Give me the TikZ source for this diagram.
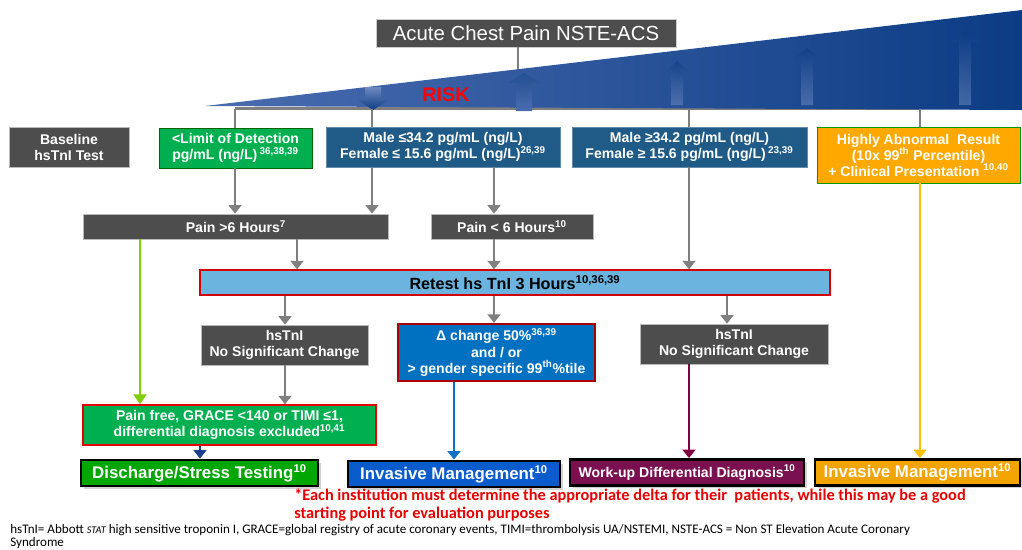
\documentclass[tikz,border=0pt]{standalone}
\usepackage{fontspec}
\setmainfont{Liberation Sans}
\newfontfamily\notefont{Carlito}
\usetikzlibrary{arrows.meta,shadows}

\definecolor{boxgray}{HTML}{4D4D4D}
\definecolor{linegray}{HTML}{7F7F7F}
\definecolor{lodgreen}{HTML}{00B050}
\definecolor{teal}{HTML}{1F5B86}
\definecolor{abnorange}{HTML}{FFA800}
\definecolor{retblue}{HTML}{6AB4DF}
\definecolor{delblue}{HTML}{0070C0}
\definecolor{alarmred}{HTML}{D00000}
\definecolor{invblue}{HTML}{0A5CCC}
\definecolor{workmaroon}{HTML}{7A1050}
\definecolor{invorange}{HTML}{F2A500}
\definecolor{riskleft}{HTML}{4A6CB0}
\definecolor{riskright}{HTML}{0C3C84}
\definecolor{arrowgreen}{HTML}{80D000}
\definecolor{arrowblue}{HTML}{1070C8}
\definecolor{arrowmaroon}{HTML}{800040}
\definecolor{arroworange}{HTML}{FFC000}
\definecolor{arrownavy}{HTML}{1F3F8F}

\newcommand{\bx}{\fontsize{10}{11.4}\selectfont\bfseries}
\newcommand{\bxbig}{\fontsize{12}{13}\selectfont\bfseries}

\tikzset{
  flowbox/.style={rectangle, inner sep=0pt, align=center, text=white, font=\bx},
  graybox/.style={flowbox, fill=boxgray, draw=gray!55, line width=0.5pt},
  tealbox/.style={flowbox, fill=teal, draw=teal!70!white, line width=0.5pt},
  endbox/.style={flowbox, draw=black, line width=2pt, font=\bxbig,
    drop shadow={shadow xshift=2pt, shadow yshift=-2pt, fill=gray!70}},
  tip/.style={-{Triangle[width=9pt,length=6pt]}},
  gline/.style={draw=linegray, line width=2pt},
  garrow/.style={gline, tip},
}

\begin{document}
\begin{tikzpicture}[x=0.025cm,y=-0.025cm]
  \useasboundingbox (0,0) rectangle (1022,549);

  % column positions of the connectors
  \coordinate (xa) at (140,0);
  \coordinate (xb) at (200,0);
  \coordinate (xc) at (235,0);
  \coordinate (xd) at (285,0);
  \coordinate (xe) at (297,0);
  \coordinate (xf) at (372,0);
  \coordinate (xg) at (454,0);
  \coordinate (xh) at (494,0);
  \coordinate (xi) at (689,0);
  \coordinate (xj) at (727,0);
  \coordinate (xk) at (920,0);
  \coordinate (xt) at (518,0);

  % Title and its line into the risk wedge
  \node[graybox, draw=gray!40, minimum width=7.5cm, minimum height=0.7cm,
        font=\fontsize{14.5}{16}\selectfont] (title) at (526,33) {Acute Chest Pain NSTE-ACS};
  \coordinate (tt) at (518,85);
  \draw[gline] (title.south -| xt) -- (tt);

  % Bus under the wedge
  \coordinate (bus1) at (235,108.5);
  \coordinate (bus2) at (920,108.5);
  \draw[gline] (bus1) -- (bus2);

  % Risk wedge
  \shade[left color=riskleft, right color=riskright] (205,106) -- (1022,10) -- (1022,110) -- cycle;
  \foreach \ax/\at/\hw in {677/61/11, 807/48/13, 965/32/15} {
    \shade[top color=riskright, bottom color=riskleft!80!white, opacity=0.55]
      (\ax-6,105) -- (\ax-6,\at+10) -- (\ax-\hw,\at+10) -- (\ax,\at)
      -- (\ax+\hw,\at+10) -- (\ax+6,\at+10) -- (\ax+6,105) -- cycle;
  }
  % arrows up and down at the wedge's left part
  \shade[top color=riskright!90!white, bottom color=riskleft]
    (516,111) -- (516,83) -- (508,83) -- (524,73) -- (540,83) -- (532,83) -- (532,111) -- cycle;
  \shade[top color=riskleft!80!white, bottom color=riskright]
    (365,87) -- (365,100) -- (358,100) -- (373,110) -- (388,100) -- (381,100) -- (381,87) -- cycle;
  \node[text=red, font=\fontsize{14}{16}\selectfont\bfseries] (risk) at (446,95) {RISK};

  % Baseline row
  \node[graybox, minimum width=3cm, minimum height=1cm] (base) at (69,147) {Baseline\\hsTnI Test};
  \node[flowbox, fill=lodgreen, draw=green!40!black, line width=0.5pt,
        minimum width=3.825cm, minimum height=1cm] (lod) at (235.5,148)
        {<Limit of Detection\\pg/mL (ng/L)\,\textsuperscript{36,38,39}};
  \node[tealbox, minimum width=5.85cm, minimum height=1cm] (lowm) at (443,147)
        {Male ≤34.2 pg/mL (ng/L)\\Female ≤ 15.6 pg/mL (ng/L)\textsuperscript{26,39}};
  \node[tealbox, minimum width=5.875cm, minimum height=1cm] (highm) at (689.5,147)
        {Male ≥34.2 pg/mL (ng/L)\\Female ≥ 15.6 pg/mL (ng/L)\,\textsuperscript{23,39}};
  \node[flowbox, fill=abnorange, draw=green!60!black, line width=0.6pt,
        minimum width=5.075cm, minimum height=1.4cm] (abn) at (918.5,155)
        {Highly Abnormal\ \ Result\\(10x 99\textsuperscript{th} Percentile)\\+ Clinical Presentation \textsuperscript{10,40}};

  % Pain duration row
  \node[graybox, minimum width=7.625cm, minimum height=0.625cm] (pain6) at (236,226.5)
        {Pain >6 Hours\textsuperscript{7}};
  \node[graybox, minimum width=4.05cm, minimum height=0.625cm] (painlt) at (512,226.5)
        {Pain < 6 Hours\textsuperscript{10}};

  % Retest
  \node[flowbox, fill=retblue, draw=alarmred, line width=1pt, text=black,
        font=\fontsize{11.5}{13}\selectfont\bfseries,
        minimum width=15.75cm, minimum height=0.625cm] (retest) at (515,282.5)
        {Retest hs TnI 3 Hours\textsuperscript{10,36,39}};

  % Change row
  \node[graybox, minimum width=4.175cm, minimum height=1cm] (nscl) at (284.5,345)
        {hsTnI\\No Significant Change};
  \node[flowbox, fill=delblue, draw=alarmred!80!black, line width=1.6pt,
        minimum width=4.925cm, minimum height=1.425cm] (delta) at (496.5,352.5)
        {Δ change 50\%\textsuperscript{36,39}\\and / or\\> gender specific 99\textsuperscript{th}\%tile};
  \node[graybox, minimum width=4.7cm, minimum height=1cm] (nscr) at (734,344)
        {hsTnI\\No Significant Change};

  \node[flowbox, fill=lodgreen, draw=red!90!black, line width=1pt,
        minimum width=7.325cm, minimum height=1cm] (painfree) at (229.5,425)
        {Pain free, GRACE <140 or TIMI ≤1,\\differential diagnosis excluded\textsuperscript{10,41}};

  % Outcomes
  \node[endbox, fill=green!65!black, minimum width=5.925cm, minimum height=0.65cm] (discharge) at (199.5,473)
        {Discharge/Stress Testing\textsuperscript{10}};
  \node[endbox, fill=invblue, minimum width=5.3cm, minimum height=0.65cm] (inv1) at (454,474)
        {Invasive Management\textsuperscript{10}};
  \node[endbox, fill=workmaroon, font=\bx, minimum width=5.85cm, minimum height=0.65cm] (workup) at (687,472.5)
        {Work-up Differential Diagnosis\textsuperscript{10}};
  \node[endbox, fill=invorange, minimum width=5.125cm, minimum height=0.65cm] (inv2) at (917.5,472.5)
        {Invasive Management\textsuperscript{10}};

  % Connectors
  \draw[gline] (bus1) -- (lod.north -| bus1);
  \draw[gline] (bus1 -| xf) -- (lowm.north -| xf);
  \draw[gline] (bus1 -| xi) -- (highm.north -| xi);
  \draw[gline] (bus2) -- (abn.north -| bus2);
  \draw[garrow] (lod.south -| xc) -- (pain6.north -| xc);
  \draw[garrow] (lowm.south -| xf) -- (pain6.north -| xf);
  \draw[garrow] (lowm.south -| xh) -- (painlt.north -| xh);
  \draw[garrow] (highm.south -| xi) -- (retest.north -| xi);
  \draw[garrow] (pain6.south -| xe) -- (retest.north -| xe);
  \draw[garrow] (painlt.south -| xh) -- (retest.north -| xh);
  \draw[garrow] (retest.south -| xd) -- (nscl.north -| xd);
  \draw[garrow] (retest.south -| xh) -- (delta.north -| xh);
  \draw[garrow] (retest.south -| xj) -- (nscr.north -| xj);
  \draw[garrow, draw=arrowgreen, -{Triangle[width=9pt,length=7pt]}] (pain6.south -| xa) -- (painfree.north -| xa);
  \draw[garrow] (nscl.south -| xd) -- (painfree.north -| xd);
  \draw[garrow, draw=arrownavy] (painfree.south -| xb) -- (discharge.north -| xb);
  \draw[garrow, draw=arrowblue] (delta.south -| xg) -- (inv1.north -| xg);
  \draw[garrow, draw=arrowmaroon] (nscr.south -| xi) -- (workup.north -| xi);
  \draw[garrow, draw=arroworange] (abn.south -| xk) -- (inv2.north -| xk);

  % Notes
  \node[anchor=north west, align=left, inner sep=0pt, text=red!90!black,
        font=\notefont\fontsize{11.6}{12.2}\selectfont\bfseries] (note) at (294,489)
        {*Each institution must determine the appropriate delta for their\ \ patients, while this may be a good\\
         starting point for evaluation purposes};
  \node[anchor=north west, align=left, inner sep=0pt,
        font=\notefont\fontsize{9.3}{9.3}\selectfont] (legend) at (10,524)
        {hsTnI= Abbott {\itshape\fontsize{7.3}{8}\selectfont STAT} high sensitive troponin I, GRACE=global registry of acute coronary events, TIMI=thrombolysis UA/NSTEMI, NSTE-ACS = Non ST Elevation Acute Coronary\\
         Syndrome};
\end{tikzpicture}
\end{document}
